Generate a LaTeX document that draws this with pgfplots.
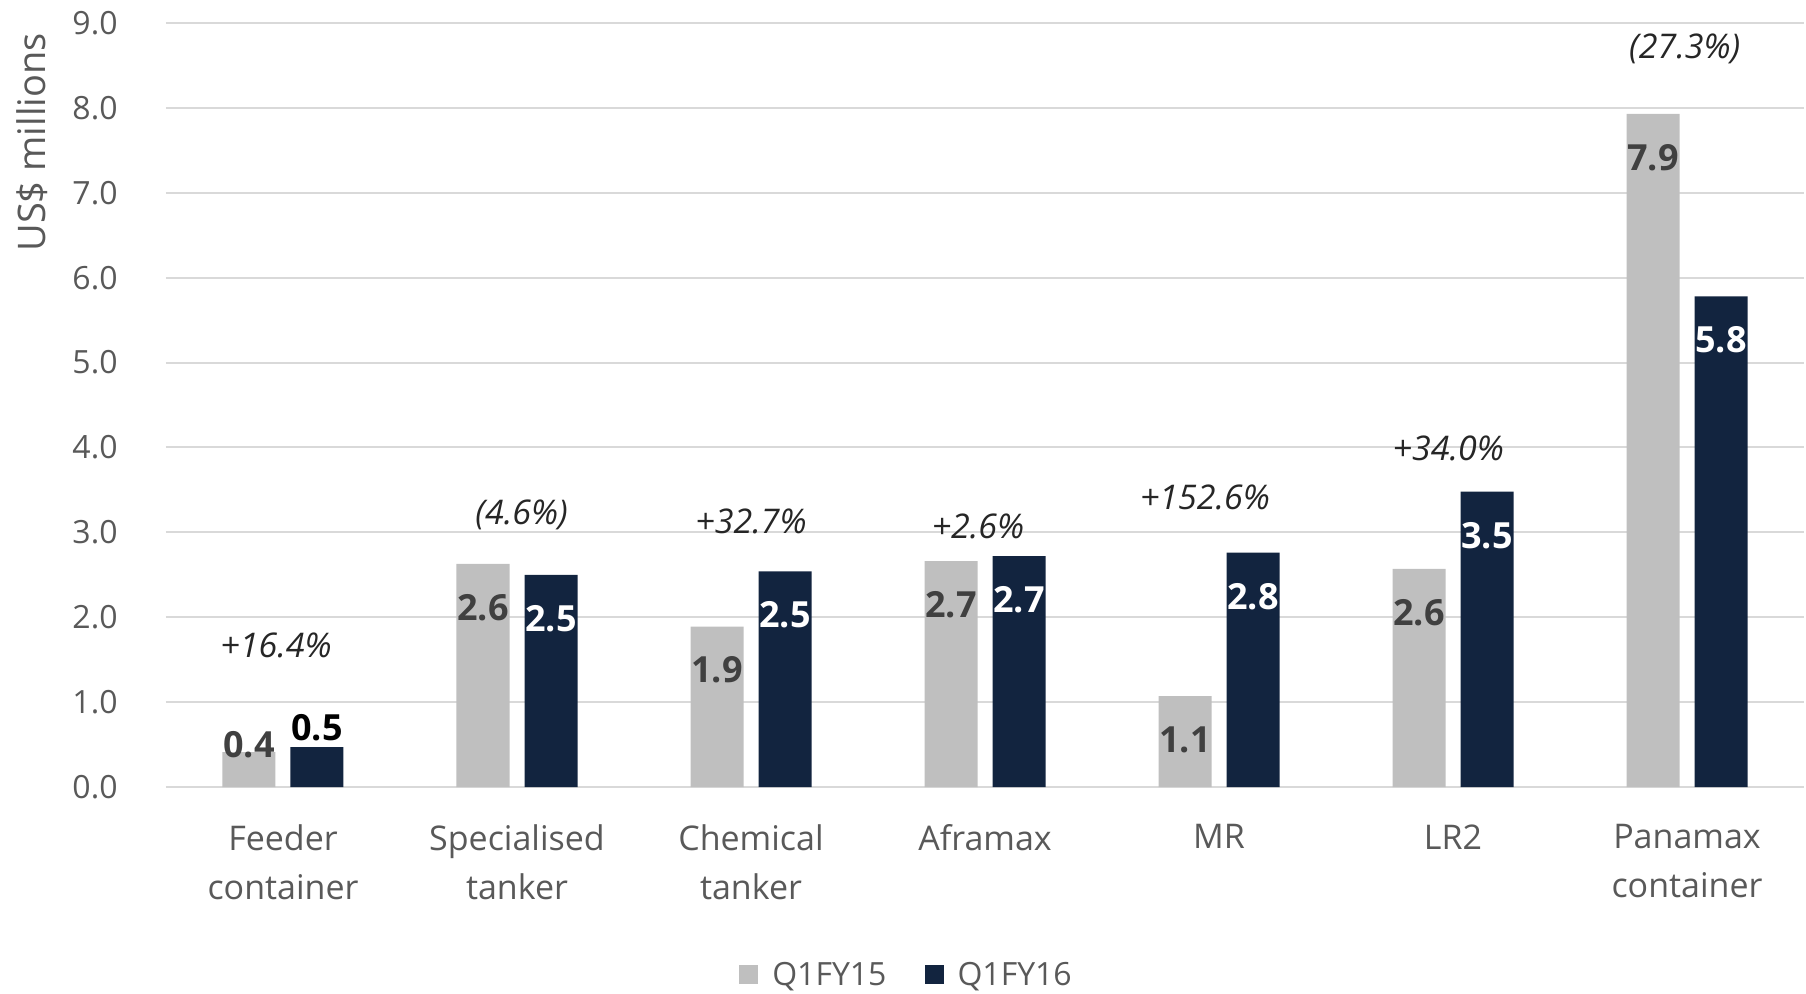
\documentclass[border=0pt]{standalone}
\usepackage{fontspec}
\setmainfont{Open Sans}
\usepackage{pgfplots}
\pgfplotsset{compat=1.18}
\usepackage{pgfplotstable}

\definecolor{cgray}{HTML}{BFBFBF}
\definecolor{cnavy}{HTML}{12243F}
\definecolor{ctick}{HTML}{595959}
\definecolor{cgrid}{HTML}{D9D9D9}
\definecolor{clab}{HTML}{404040}

\pgfplotstableread{
x a b
0 0.41 0.47
1 2.63 2.50
2 1.89 2.54
3 2.66 2.72
4 1.07 2.76
5 2.57 3.48
6 7.93 5.78
}\data

\pgfplotstableread[col sep=comma]{
x,y,label
-0.03,1.67,+16.4\%
1.02,3.21,(4.6\%)
2.00,3.13,+32.7\%
2.97,3.07,+2.6\%
3.94,3.41,+152.6\%
4.98,3.99,+34.0\%
5.99,8.69,(27.3\%)
}\pct

\begin{document}
\begin{tikzpicture}
\useasboundingbox (-83pt,-103pt) rectangle (820pt,393.5pt);
\begin{axis}[
  at={(0,0)}, anchor=south west,
  scale only axis, width=819pt, height=382pt,
  xmin=-0.5, xmax=6.5, ymin=0, ymax=9,
  /pgf/number format/assume math mode=true,
  axis line style={draw=none},
  major tick length=0pt,
  ymajorgrids, grid style={cgrid, line width=1pt},
  ytick={0,1,...,9},
  yticklabel={\pgfmathprintnumber[fixed,fixed zerofill,precision=1]{\tick}},
  yticklabel style={font=\fontsize{16}{19}\selectfont, text=ctick, anchor=east, inner sep=0pt, xshift=-24pt},
  xtick={0,...,6},
  xticklabels={{Feeder\\container},{Specialised\\tanker},{Chemical\\tanker},{Aframax},{MR},{LR2},{Panamax\\container}},
  xticklabel style={font=\fontsize{17}{24.5}\selectfont, text=ctick, align=center, anchor=north, inner sep=0pt, yshift=-18.5pt},
  ylabel={US\$ millions},
  ylabel style={at={(axis description cs:-0.0818,0.987)}, anchor=east, rotate=0, inner sep=0pt, font=\fontsize{19}{22}\selectfont, text=ctick},
  legend style={at={(axis description cs:0.4527,-0.2467)}, anchor=center, draw=none, fill=none,
    legend columns=2, font=\fontsize{16}{19}\selectfont, text=ctick,
    /tikz/every odd column/.append style={column sep=5pt},
    /tikz/every even column/.append style={column sep=17pt}},
  legend image code/.code={\fill[#1] (0pt,-4.5pt) rectangle (9.5pt,5pt);},
]
\addplot[ybar, bar width=26.5pt, bar shift=-17pt, fill=cgray, draw=none,
  nodes near coords={\pgfmathprintnumber[fixed,fixed zerofill,precision=1]{\pgfplotspointmeta}},
  nodes near coords style={font=\bfseries\fontsize{18}{20}\selectfont, text=clab, inner sep=0pt, xshift=-17pt},
  coordinate style/.condition={y>=1}{anchor=north, yshift=-15pt},
  coordinate style/.condition={y<1}{anchor=center, yshift=4pt}]
  table[x=x, y=a] {\data};
\addlegendentry{Q1FY15}
\addplot[ybar, bar width=26.5pt, bar shift=17pt, fill=cnavy, draw=none,
  nodes near coords={\pgfmathprintnumber[fixed,fixed zerofill,precision=1]{\pgfplotspointmeta}},
  nodes near coords style={font=\bfseries\fontsize{18}{20}\selectfont, inner sep=0pt, xshift=17pt},
  coordinate style/.condition={y>=1}{anchor=north, yshift=-15pt, text=white},
  coordinate style/.condition={y<1}{anchor=south, yshift=3pt, text=black}]
  table[x=x, y=b] {\data};
\addlegendentry{Q1FY16}
\addplot[draw=none, forget plot,
  nodes near coords, point meta=explicit symbolic,
  nodes near coords style={font=\itshape\fontsize{17}{20}\selectfont, text=black!85, anchor=center, inner sep=0pt}]
  table[x=x, y=y, meta=label] {\pct};
\end{axis}
\end{tikzpicture}
\end{document}
